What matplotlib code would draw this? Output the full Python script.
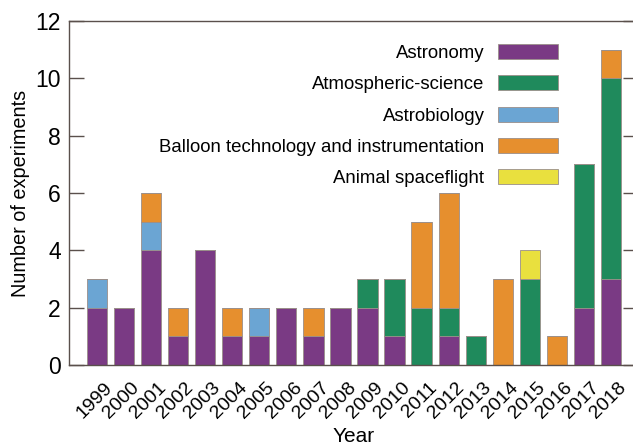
import matplotlib
matplotlib.use("Agg")
import matplotlib.pyplot as plt
import numpy as np

plt.rcParams['font.family'] = ['Liberation Sans', 'DejaVu Sans']

years = [str(y) for y in range(1999, 2019)]
astronomy   = [2, 2, 4, 1, 4, 1, 1, 2, 1, 2, 2, 1, 0, 1, 0, 0, 0, 0, 2, 3]
atmospheric = [0, 0, 0, 0, 0, 0, 0, 0, 0, 0, 1, 2, 2, 1, 1, 0, 3, 0, 5, 7]
astrobiology= [1, 0, 1, 0, 0, 0, 1, 0, 0, 0, 0, 0, 0, 0, 0, 0, 0, 0, 0, 0]
balloon     = [0, 0, 1, 1, 0, 1, 0, 0, 1, 0, 0, 0, 3, 4, 0, 3, 0, 1, 0, 1]
animal      = [0, 0, 0, 0, 0, 0, 0, 0, 0, 0, 0, 0, 0, 0, 0, 0, 1, 0, 0, 0]

series = [
    ("Astronomy", astronomy, "#7A3A84"),
    ("Atmospheric-science", atmospheric, "#1F8A5C"),
    ("Astrobiology", astrobiology, "#6BA5D3"),
    ("Balloon technology and instrumentation", balloon, "#E68F2E"),
    ("Animal spaceflight", animal, "#E9E03E"),
]

fig = plt.figure(figsize=(6.33, 4.48), dpi=100)
ax = fig.add_axes([69/633, 1-365/448, (638-69)/633, (365-21)/448])

x = np.arange(len(years))
bottom = np.zeros(len(years))
for name, vals, col in series:
    v = np.array(vals, dtype=float)
    ax.bar(x, v, bottom=bottom, width=0.75, color=col, edgecolor="#9a8f8a",
           linewidth=0.6, label=name)
    bottom += v

ax.set_xlim(-1.035, 20.0)
ax.set_ylim(0, 12)
ax.set_yticks(range(0, 13, 2))
ax.set_xticks(x + 0.25)
ax.set_xticklabels(years, rotation=45, ha='right', va='top', rotation_mode='anchor', fontsize=14)
ax.tick_params(axis='y', direction='in', length=10.5, labelsize=16.5, right=True,
               color='#5a504c', width=1, pad=6)
ax.tick_params(axis='x', length=0, pad=10)
for s in ax.spines.values():
    s.set_color('#5a504c')
    s.set_linewidth(1)

ax.set_ylabel("Number of experiments", fontsize=14.3, labelpad=4)
ax.set_xlabel("Year", fontsize=15, labelpad=4)

leg = ax.legend(loc='upper right', bbox_to_anchor=(558/633, 1-44/448),
                bbox_transform=fig.transFigure, markerfirst=False, borderpad=0,
                borderaxespad=0, frameon=False, fontsize=13.4, handlelength=3.2,
                handleheight=0.86, labelspacing=0.72, handletextpad=0.75)

fig.savefig("out.png", dpi=100)
